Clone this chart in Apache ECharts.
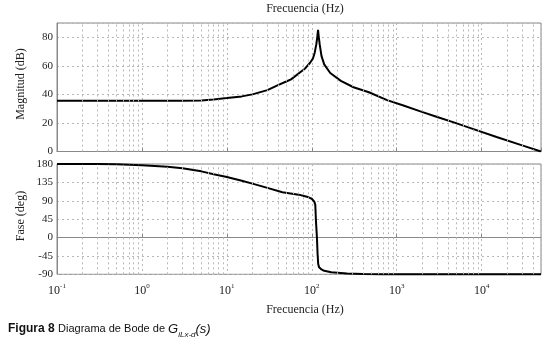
<!DOCTYPE html>
<html>
<head>
<meta charset="utf-8">
<script src="https://cdn.jsdelivr.net/npm/echarts@6/dist/echarts.min.js"></script>
<style>
html, body { margin: 0; padding: 0; background: #fff; }
#chart { width: 542px; height: 347px; }
</style>
</head>
<body>
<div id="chart"></div>
<script>
// magnitud (dB)
var magFreq = [0.1, 1, 3, 5, 7, 10, 15, 20, 30, 40, 50, 57, 73, 83, 95, 103, 108, 113, 116, 118.5,
	121, 124, 130, 140, 165, 220, 310, 470, 770, 1200, 1900, 3000, 4700, 7400, 15000, 30000, 50000];
var magDb = [35.5, 35.5, 35.6, 35.8, 36.5, 37.4, 38.6, 40, 43, 46.5, 49, 50.5, 55.5, 58, 62, 65, 69, 75, 80, 85.2,
	80, 75, 67, 61, 55, 49.5, 45, 41.5, 36, 32.2, 28.1, 24.2, 20.4, 16.4, 10.2, 4.3, 0];

// fase (grados)
var phaseFreq = [0.1, 0.3, 0.5, 1, 2, 3, 5, 7, 10, 15, 20, 30, 45, 70, 90, 100, 107, 110, 112, 115,
	117, 119, 122, 130, 140, 170, 260, 400, 700, 1000, 50000];
var phaseDeg = [180, 180, 179.5, 177, 173, 169.5, 162, 155, 148, 139, 132, 121.5, 111, 105, 99, 95, 88, 80, 40, 0,
	-40, -65, -73, -78, -81.5, -85, -87.8, -89, -89.7, -90, -90];

var fMin = 0.1, fMax = 50000;

function pairs(xs, ys) {
	var out = [];
	for (var i = 0; i < xs.length; i++) out.push([xs[i], ys[i]]);
	return out;
}

// lineas menores de la rejilla (2..9 por decada)
var minorLines = [];
for (var d = 0.1; d < fMax; d *= 10) {
	for (var k = 2; k <= 9; k++) {
		var v = +(d * k).toPrecision(3);
		if (v < fMax) minorLines.push({ xAxis: v });
	}
}

var gridGrey = '#b8b8b8';
var serif = '"Liberation Serif", "DejaVu Serif", serif';
var sans = '"Liberation Sans", Arial, sans-serif';

var minorMark = {
	silent: true,
	symbol: 'none',
	label: { show: false },
	animation: false,
	lineStyle: { color: gridGrey, type: [2, 3], width: 1 },
	data: minorLines
};

function xAxisCfg(gi, withLabels) {
	return {
		type: 'log',
		gridIndex: gi,
		logBase: 10,
		min: fMin,
		max: fMax,
		axisLine: { show: true, lineStyle: { color: '#888' } },
		axisTick: { show: true, inside: true, length: 4, lineStyle: { color: '#888' } },
		splitLine: { show: true, lineStyle: { color: gridGrey, type: [2, 3] } },
		axisLabel: {
			show: withLabels,
			margin: 8,
			showMaxLabel: false,
			formatter: function (val) {
				var n = Math.round(Math.log10(val));
				if (Math.abs(Math.log10(val) - n) > 1e-6) return '';
				return '{b|10}{s|' + n + '}';
			},
			rich: {
				b: { fontFamily: serif, fontSize: 12, lineHeight: 15, color: '#222', verticalAlign: 'bottom' },
				s: { fontFamily: serif, fontSize: 7, lineHeight: 8, color: '#222', verticalAlign: 'top' }
			}
		}
	};
}

function yAxisCfg(gi, min, max, interval) {
	return {
		type: 'value',
		gridIndex: gi,
		min: min,
		max: max,
		interval: interval,
		axisLine: { show: true, lineStyle: { color: '#888' } },
		axisTick: { show: false },
		splitLine: { show: true, lineStyle: { color: gridGrey, type: [2, 3] } },
		axisLabel: {
			showMaxLabel: min === -90,
			margin: 4,
			fontFamily: serif,
			fontSize: 11,
			color: '#222'
		}
	};
}

var chart = echarts.init(document.getElementById('chart'));

var option = {
	backgroundColor: '#fff',
	animation: false,
	grid: [
		{ left: 57, right: 1, top: 23, height: 128.5, show: true, borderColor: '#888', borderWidth: 1 },
		{ left: 57, right: 1, top: 164, height: 110.3, show: true, borderColor: '#888', borderWidth: 1 }
	],
	xAxis: [xAxisCfg(0, false), xAxisCfg(1, true)],
	yAxis: [yAxisCfg(0, 0, 90, 20), yAxisCfg(1, -90, 180, 45)],
	series: [
		{
			type: 'line',
			xAxisIndex: 0,
			yAxisIndex: 0,
			showSymbol: false,
			data: pairs(magFreq, magDb),
			lineStyle: { color: '#000', width: 2 },
			markLine: minorMark
		},
		{
			type: 'line',
			xAxisIndex: 1,
			yAxisIndex: 1,
			showSymbol: false,
			clip: false,
			data: pairs(phaseFreq, phaseDeg),
			lineStyle: { color: '#000', width: 2 },
			markLine: minorMark
		}
	],
	graphic: [
		{ type: 'text', x: 305, y: 9, style: { text: 'Frecuencia (Hz)', font: '12px ' + serif, fill: '#222', align: 'center', verticalAlign: 'middle' } },
		{ type: 'text', x: 305, y: 310, style: { text: 'Frecuencia (Hz)', font: '12px ' + serif, fill: '#222', align: 'center', verticalAlign: 'middle' } },
		{ type: 'text', x: 21, y: 84, rotation: Math.PI / 2, style: { text: 'Magnitud (dB)', font: '12px ' + serif, fill: '#222', align: 'center', verticalAlign: 'middle' } },
		{ type: 'text', x: 21, y: 216, rotation: Math.PI / 2, style: { text: 'Fase (deg)', font: '12px ' + serif, fill: '#222', align: 'center', verticalAlign: 'middle' } },
		{
			type: 'text', x: 8, y: 323,
			style: {
				text: '{a|Figura 8} {b|Diagrama de Bode de }{g|G}{u|iLx-d}{g|(s)}',
				verticalAlign: 'top',
				rich: {
					a: { fontFamily: sans, fontWeight: 'bold', fontSize: 12, lineHeight: 14, fill: '#111', verticalAlign: 'top' },
					b: { fontFamily: sans, fontSize: 11, lineHeight: 14, fill: '#111', verticalAlign: 'top' },
					g: { fontFamily: sans, fontStyle: 'italic', fontSize: 13, lineHeight: 14, fill: '#111', verticalAlign: 'top' },
					u: { fontFamily: sans, fontStyle: 'italic', fontSize: 8, lineHeight: 16, fill: '#111', verticalAlign: 'bottom' }
				}
			}
		}
	]
};

chart.setOption(option);
</script>
</body>
</html>
